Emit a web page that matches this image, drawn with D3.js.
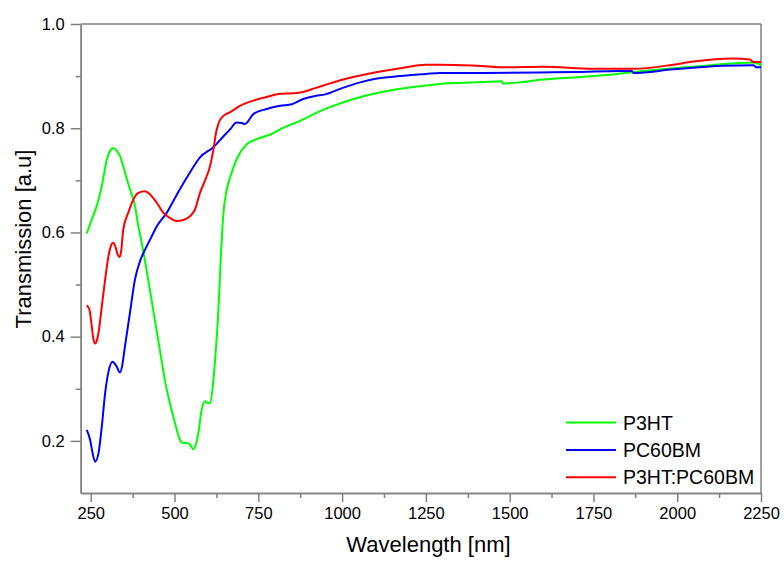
<!DOCTYPE html>
<html><head><meta charset="utf-8">
<script src="https://cdn.jsdelivr.net/npm/d3@7"></script>
<style>body{margin:0;background:#fff}svg{display:block}text{font-family:"Liberation Sans",Arial,sans-serif;fill:#000}</style>
</head><body>
<svg id="c" width="784" height="570"></svg>
<script>
const seriesNames = ["P3HT", "PC60BM", "P3HT:PC60BM"];
const seriesColors = ["#00ff00", "#0000ff", "#ff0000"];
const xTicks = [250, 500, 750, 1000, 1250, 1500, 1750, 2000, 2250];
const yTicks = [0.2, 0.4, 0.6, 0.8, 1.0];

const p3ht = [[238,0.598],[253,0.625],[268,0.651],[283,0.689],[298,0.740],[308,0.757],[317,0.762],[327,0.757],[337,0.747],[352,0.715],[367,0.683],[382,0.651],[392,0.612],[402,0.580],[420,0.515],[440,0.437],[461,0.356],[471,0.317],[486,0.273],[501,0.235],[516,0.202],[526,0.196],[536,0.196],[546,0.193],[556,0.184],[563,0.192],[571,0.215],[581,0.260],[591,0.276],[600,0.272],[606,0.273],[616,0.317],[621,0.356],[630,0.44],[638,0.55],[645,0.63],[655,0.68],[666,0.706],[685,0.740],[715,0.769],[745,0.779],[785,0.788],[825,0.801],[874,0.814],[924,0.830],[974,0.843],[1034,0.856],[1100,0.867],[1200,0.878],[1292,0.885],[1400,0.888],[1476,0.890],[1480,0.886],[1530,0.888],[1590,0.893],[1700,0.898],[1789,0.902],[1900,0.910],[1988,0.915],[2100,0.921],[2227,0.926],[2250,0.921]];

const pc60bm = [[238,0.221],[248,0.202],[256,0.175],[263,0.160],[273,0.176],[283,0.228],[293,0.292],[302,0.330],[315,0.352],[327,0.343],[337,0.331],[344,0.345],[352,0.381],[367,0.446],[382,0.510],[397,0.545],[412,0.567],[430,0.590],[447,0.612],[477,0.638],[496,0.660],[516,0.683],[546,0.715],[576,0.744],[615,0.763],[651,0.788],[666,0.798],[685,0.811],[700,0.810],[710,0.808],[735,0.827],[775,0.837],[815,0.843],[850,0.846],[884,0.856],[920,0.862],[950,0.865],[1000,0.877],[1054,0.888],[1100,0.895],[1173,0.900],[1250,0.904],[1292,0.906],[1400,0.906],[1590,0.907],[1700,0.908],[1829,0.910],[1865,0.910],[1869,0.906],[1988,0.913],[2137,0.920],[2227,0.921],[2237,0.917],[2250,0.917]];

const blend = [[238,0.460],[246,0.452],[253,0.420],[258,0.395],[263,0.387],[268,0.392],[273,0.407],[283,0.458],[293,0.510],[303,0.555],[312,0.577],[317,0.580],[324,0.572],[330,0.558],[336,0.553],[341,0.565],[347,0.606],[362,0.638],[377,0.663],[392,0.676],[412,0.679],[427,0.673],[447,0.657],[466,0.638],[486,0.628],[506,0.622],[526,0.624],[546,0.631],[561,0.644],[576,0.676],[591,0.700],[605,0.725],[615,0.755],[625,0.795],[635,0.815],[651,0.826],[666,0.831],[695,0.843],[735,0.853],[775,0.860],[815,0.866],[850,0.867],[880,0.869],[920,0.877],[964,0.886],[1000,0.893],[1083,0.905],[1173,0.915],[1250,0.922],[1292,0.922],[1400,0.920],[1491,0.917],[1600,0.918],[1749,0.914],[1869,0.914],[1988,0.922],[2048,0.928],[2167,0.934],[2217,0.932],[2227,0.927],[2250,0.927]];

const allSeries = [p3ht, pc60bm, blend];

const svg = d3.select("#c");
const L = 80.7, R = 761, T = 24, B = 493;
const x = d3.scaleLinear().domain([220, 2250]).range([L, R]);
const y = d3.scaleLinear().domain([0.1, 1.0]).range([B, T]);
const axisCol = "#808080";

// frame
svg.append("line").attr("x1", L).attr("x2", R).attr("y1", T).attr("y2", T).attr("stroke", axisCol).attr("stroke-width", 1.5);
svg.append("line").attr("x1", R).attr("x2", R).attr("y1", T).attr("y2", B).attr("stroke", axisCol).attr("stroke-width", 1.5);

const xAxis = svg.append("g").attr("transform", `translate(0,${B})`)
  .call(d3.axisBottom(x).tickValues(xTicks).tickFormat(d3.format("d")).tickSizeInner(9).tickSizeOuter(0).tickPadding(5));
const xMinor = svg.append("g").attr("transform", `translate(0,${B})`)
  .call(d3.axisBottom(x).tickValues(xTicks.slice(0,-1).map(v => v + 125)).tickFormat("").tickSizeInner(5).tickSizeOuter(0));
const yAxis = svg.append("g").attr("transform", `translate(${L},0)`)
  .call(d3.axisLeft(y).tickValues(yTicks).tickFormat(d3.format(".1f")).tickSizeInner(10).tickSizeOuter(0).tickPadding(6));
const yMinor = svg.append("g").attr("transform", `translate(${L},0)`)
  .call(d3.axisLeft(y).tickValues([0.3, 0.5, 0.7, 0.9]).tickFormat("").tickSizeInner(5).tickSizeOuter(0));

[xAxis, xMinor, yAxis, yMinor].forEach(g => {
  g.select(".domain").attr("stroke", axisCol).attr("stroke-width", 1.5);
  g.selectAll(".tick line").attr("stroke", axisCol).attr("stroke-width", 1.5);
  g.selectAll(".tick text").attr("fill", "#000").style("font-size", "16.5px").style("font-family", '"Liberation Sans",Arial,sans-serif');
});

// lines
const line = d3.line().x(d => x(d[0])).y(d => y(d[1])).curve(d3.curveMonotoneX);
allSeries.forEach((s, i) => {
  svg.append("path").datum(s).attr("d", line).attr("fill", "none")
    .attr("stroke", seriesColors[i]).attr("stroke-width", 2).attr("stroke-linejoin", "round");
});

// titles
svg.append("text").attr("x", 428.5).attr("y", 552).attr("text-anchor", "middle").style("font-size", "22px").text("Wavelength [nm]");
svg.append("text").attr("transform", "translate(31,239) rotate(-90)").attr("text-anchor", "middle").style("font-size", "22px").text("Transmission [a.u]");

// legend
const legY = [422.5, 450, 477.3];
seriesNames.forEach((n, i) => {
  svg.append("line").attr("x1", 566).attr("x2", 616).attr("y1", legY[i]).attr("y2", legY[i])
    .attr("stroke", seriesColors[i]).attr("stroke-width", 2);
  svg.append("text").attr("x", 623).attr("y", legY[i] + 7).style("font-size", "19.5px").text(n);
});
</script>
</body></html>
